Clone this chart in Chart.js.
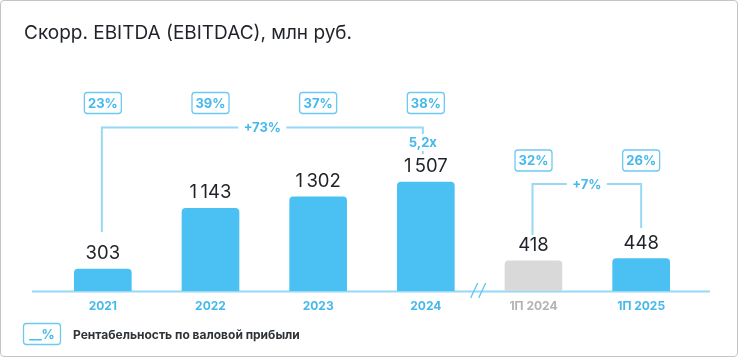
<!DOCTYPE html>
<html><head><meta charset="utf-8">
<script src="https://cdn.jsdelivr.net/npm/chart.js@4.4.1/dist/chart.umd.min.js"></script>
<style>
html,body{margin:0;padding:0;background:#fff;}
#wrap{position:absolute;left:0;top:0;width:736px;height:355px;border:1px solid #c4c4c4;border-radius:4px;}
canvas{position:absolute;left:0;top:0;}
</style></head>
<body>
<div id="wrap"></div>
<canvas id="c" width="738" height="357"></canvas>
<script>
const titleText = 'Скорр. EBITDA (EBITDAC), млн руб.';
const categories = ['2021', '2022', '2023', '2024', '1П 2024', '1П 2025'];
const ebitda = [303, 1143, 1302, 1507, 418, 448];
const grossMargin = ['23%', '39%', '37%', '38%', '32%', '26%'];
const yearGrowth = '+73%';
const yearMultiple = '5,2x';
const halfGrowth = '+7%';
const legendText = 'Рентабельность по валовой прибыли';
const legendBox = '__%';

const FONT = 'Inter, Roboto, sans-serif';
const BLUE = '#4bc0f2';
const GRAY_BAR = '#d9d9d9';
const TXT_BLUE = '#45b9ec';
const LINE_BLUE = '#96d9f6';
const BOX_BLUE = '#6ccaf2';

function fmt(v){ return String(v).replace(/\B(?=(\d{3})+(?!\d))/g, '\u2009'); }

function roundRect(ctx, x, y, w, h, r){
  ctx.beginPath();
  ctx.moveTo(x+r, y);
  ctx.lineTo(x+w-r, y); ctx.quadraticCurveTo(x+w, y, x+w, y+r);
  ctx.lineTo(x+w, y+h-r); ctx.quadraticCurveTo(x+w, y+h, x+w-r, y+h);
  ctx.lineTo(x+r, y+h); ctx.quadraticCurveTo(x, y+h, x, y+h-r);
  ctx.lineTo(x, y+r); ctx.quadraticCurveTo(x, y, x+r, y);
  ctx.closePath();
}

function pctBox(ctx, cx, cy, text){
  const w = 38, h = 22;
  ctx.save();
  roundRect(ctx, cx - w/2 + 0.5, cy - h/2 + 0.5, w - 1, h - 1, 3);
  ctx.strokeStyle = BOX_BLUE; ctx.lineWidth = 1.3; ctx.stroke();
  ctx.fillStyle = TXT_BLUE; ctx.font = 'bold 13px ' + FONT;
  ctx.textAlign = 'center'; ctx.textBaseline = 'middle';
  ctx.fillText(text, cx, cy + 1);
  ctx.restore();
}

const deco = {
  id: 'deco',
  beforeDatasetsDraw(chart){
    const ctx = chart.ctx, y0 = chart.scales.y.getPixelForValue(0);
    ctx.save();
    ctx.strokeStyle = LINE_BLUE; ctx.lineWidth = 2;
    ctx.beginPath(); ctx.moveTo(32, y0 + 0.5); ctx.lineTo(710, y0 + 0.5); ctx.stroke();
    ctx.restore();
  },
  afterDatasetsDraw(chart){
    const ctx = chart.ctx;
    const meta = chart.getDatasetMeta(0);
    ctx.save();
    // title
    ctx.fillStyle = '#1f2329'; ctx.font = '19px ' + FONT;
    ctx.textAlign = 'left'; ctx.textBaseline = 'middle';
    ctx.fillText(titleText, 24, 33);
    // value labels
    ctx.font = '18.5px ' + FONT; ctx.textAlign = 'center'; ctx.textBaseline = 'alphabetic';
    meta.data.forEach((bar, i) => {
      ctx.fillStyle = '#1f2329';
      ctx.fillText(fmt(ebitda[i]), bar.x, bar.y - 10);
    });
    // margin boxes
    meta.data.forEach((bar, i) => {
      pctBox(ctx, bar.x, i < 4 ? 103 : 160.5, grossMargin[i]);
    });
    // brackets
    ctx.strokeStyle = LINE_BLUE; ctx.lineWidth = 2;
    const b0 = meta.data[0], b3 = meta.data[3], b4 = meta.data[4], b5 = meta.data[5];
    const yA = 127.5, xa1 = b0.x - 1, xa2 = b3.x - 3;
    const midA = (xa1 + xa2) / 2;
    ctx.beginPath();
    ctx.moveTo(xa1, 232); ctx.lineTo(xa1, yA); ctx.lineTo(midA - 24, yA);
    ctx.moveTo(midA + 24, yA); ctx.lineTo(xa2, yA); ctx.lineTo(xa2, 134);
    ctx.moveTo(xa2, 151); ctx.lineTo(xa2, 154);
    ctx.stroke();
    ctx.fillStyle = TXT_BLUE; ctx.font = 'bold 13px ' + FONT;
    ctx.textAlign = 'center'; ctx.textBaseline = 'middle';
    ctx.fillText(yearGrowth, midA, yA + 1);
    ctx.fillText(yearMultiple, xa2, 143);
    const yB = 184, xb1 = b4.x - 1, xb2 = b5.x;
    const midB = (xb1 + xb2) / 2;
    ctx.beginPath();
    ctx.moveTo(xb1, 235); ctx.lineTo(xb1, yB); ctx.lineTo(midB - 20, yB);
    ctx.moveTo(midB + 20, yB); ctx.lineTo(xb2, yB); ctx.lineTo(xb2, 228);
    ctx.stroke();
    ctx.fillText(halfGrowth, midB, yB + 1);
    // break marks
    const xm = (b3.x + b4.x) / 2;
    ctx.strokeStyle = '#5fc6f2'; ctx.lineWidth = 1.3;
    ctx.beginPath();
    ctx.moveTo(xm - 9, 298); ctx.lineTo(xm - 2, 283);
    ctx.moveTo(xm - 1, 298); ctx.lineTo(xm + 6, 283);
    ctx.stroke();
    // legend
    pctBox(ctx, 42, 334, legendBox);
    ctx.fillStyle = '#2e3338'; ctx.font = 'bold 12px ' + FONT;
    ctx.textAlign = 'left'; ctx.textBaseline = 'middle';
    ctx.fillText(legendText, 73, 335);
    ctx.restore();
  }
};

new Chart(document.getElementById('c'), {
  type: 'bar',
  data: {
    labels: categories,
    datasets: [{
      data: ebitda,
      backgroundColor: categories.map((c, i) => i === 4 ? GRAY_BAR : BLUE),
      borderRadius: {topLeft: 4, topRight: 4, bottomLeft: 0, bottomRight: 0},
      borderSkipped: 'bottom',
      barThickness: 57
    }]
  },
  options: {
    responsive: false,
    animation: false,
    events: [],
    layout: {padding: {left: 49, right: 43, top: 90, bottom: 36}},
    plugins: {legend: {display: false}, tooltip: {enabled: false}, title: {display: false}},
    scales: {
      x: {
        grid: {display: false, drawTicks: false, tickLength: 0}, border: {display: false},
        afterFit: (axis) => { axis.height = 30; },
        ticks: {
          padding: 8,
          font: {family: FONT, size: 12, weight: 'bold'},
          color: (ctx) => ctx.index === 4 ? '#b3b3b3' : TXT_BLUE
        }
      },
      y: {display: false, min: 0, max: 2780}
    }
  },
  plugins: [deco]
});
</script>
</body></html>
